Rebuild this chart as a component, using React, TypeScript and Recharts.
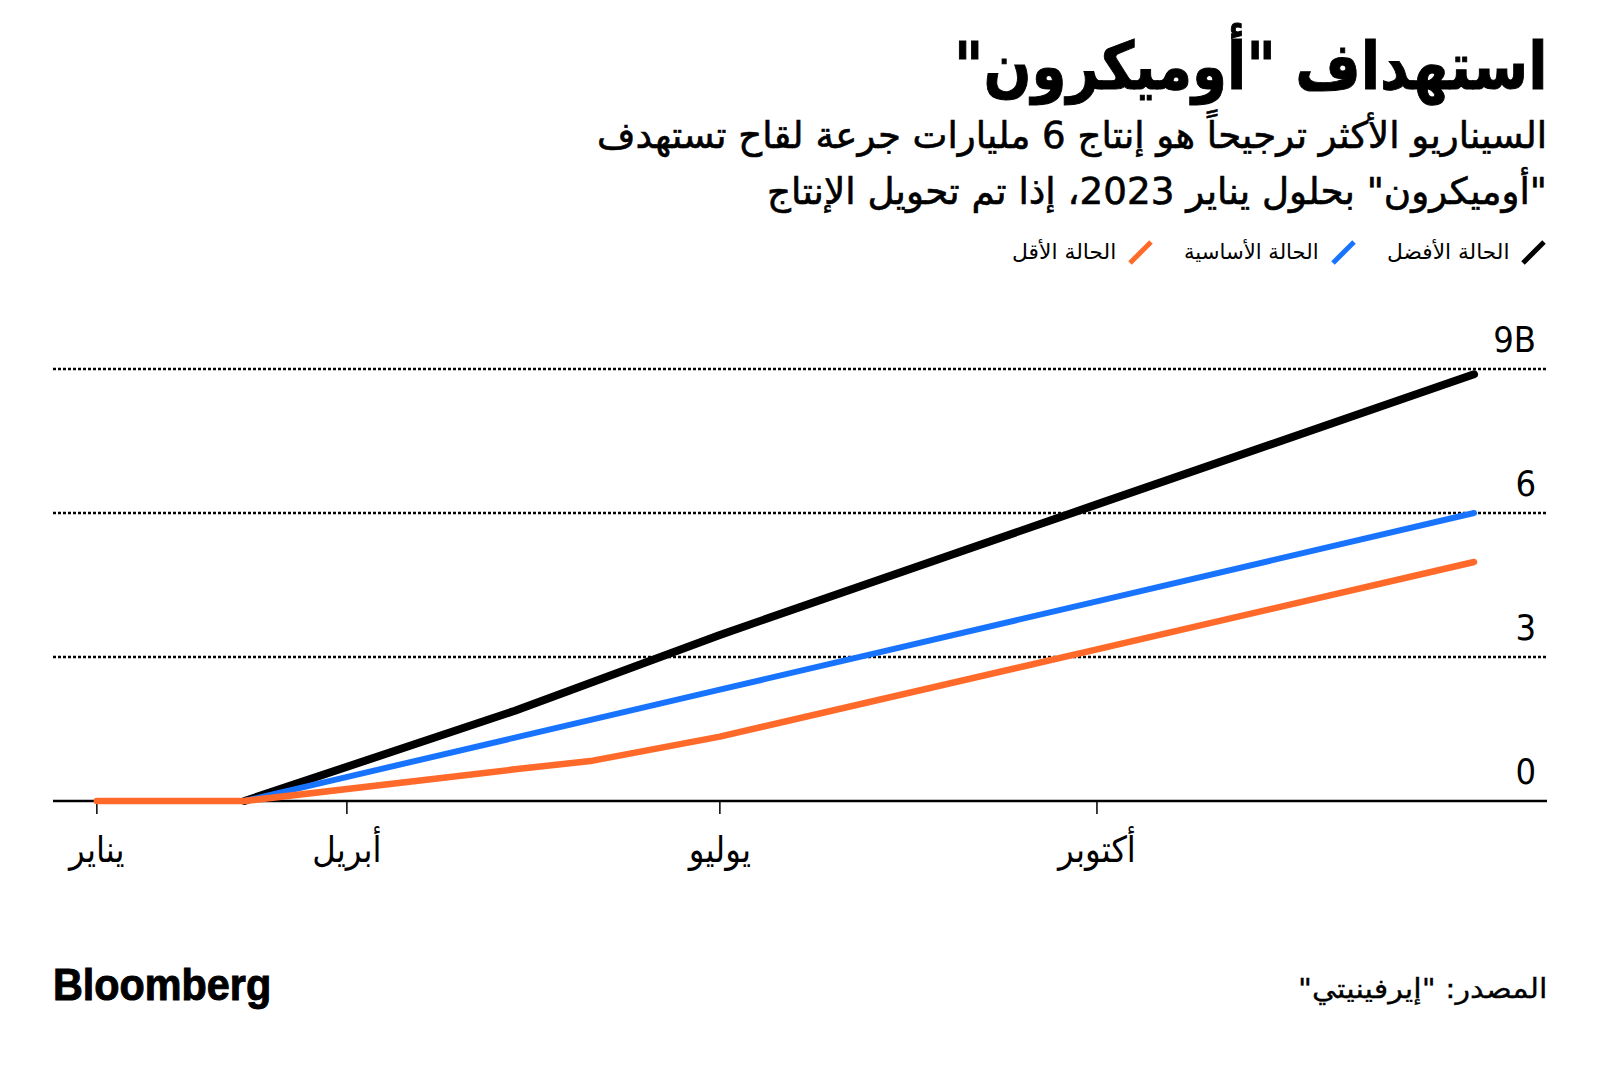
import React, { useLayoutEffect, useRef, useState } from 'react';
import { LineChart, Line, XAxis, YAxis, CartesianGrid } from 'recharts';

// ---- data (day of year 2022 -> billions of doses) ----
const days = [29, 65, 131, 150, 181, 273, 365];
const bestCase: (number | null)[] = [null, 0, 1.88, 2.48, 3.46, 6.18, 8.89];
const baseCase: (number | null)[] = [null, 0, 1.32, 1.7, 2.32, 4.16, 6.0];
const worstCase: (number | null)[] = [0, 0, 0.66, 0.84, 1.34, 3.16, 4.98];

const monthTicks = [29, 90, 181, 273];
const monthLabels = ['يناير', 'أبريل', 'يوليو', 'أكتوبر'];
const valueTicks = [0, 3, 6, 9];
const valueLabels = ['0', '3', '6', '9B'];

const seriesKeys = ['best', 'base', 'worst'];
const seriesNames = ['الحالة الأفضل', 'الحالة الأساسية', 'الحالة الأقل'];
const seriesColors = ['#000000', '#1874ff', '#ff6a2a'];
const seriesWidths = [8, 6, 6.5];
const legendTextWidths = [122, 135, 104];

const titleText = 'استهداف "أوميكرون"';
const subtitleLine1 = 'السيناريو الأكثر ترجيحاً هو إنتاج 6 مليارات جرعة لقاح تستهدف';
const subtitleLine2 = '"أوميكرون" بحلول يناير 2023، إذا تم تحويل الإنتاج';
const sourceText = 'المصدر: "إيرفينيتي"';
const brandText = 'Bloomberg';

const rows = days.map((d, i) => ({
  day: d,
  best: bestCase[i],
  base: baseCase[i],
  worst: worstCase[i],
}));

const W = 1600;
const H = 1065;
const RIGHT_EDGE = 1547;
const ARABIC_FONT = '"DejaVu Sans", sans-serif';
const NARROW_FONT = '"Liberation Sans Narrow", "DejaVu Sans Condensed", "Liberation Sans", sans-serif';

type FitProps = {
  text: string;
  baseline: number;
  fontSize: number;
  width: number;
  right?: number;
  left?: number;
  weight?: number;
  family?: string;
  dir?: 'rtl' | 'ltr';
  stroke?: number;
};

function FitText({ text, baseline, fontSize, width, right, left, weight = 400, family = ARABIC_FONT, dir = 'rtl', stroke = 0 }: FitProps) {
  const ref = useRef<HTMLSpanElement>(null);
  const [sx, setSx] = useState(1);
  useLayoutEffect(() => {
    if (ref.current) {
      const w = ref.current.offsetWidth;
      if (w > 0) setSx(width / w);
    }
  }, [text, width, fontSize]);
  const style: React.CSSProperties = {
    position: 'absolute',
    top: baseline - fontSize * 0.846,
    lineHeight: `${fontSize}px`,
    fontSize,
    fontWeight: weight,
    fontFamily: family,
    whiteSpace: 'nowrap',
    color: '#000',
    WebkitTextStroke: stroke > 0 ? `${stroke}px #000` : undefined,
  };
  if (right !== undefined) style.right = right;
  if (left !== undefined) style.left = left;
  return (
    <div dir={dir} style={style}>
      <span
        ref={ref}
        style={{
          display: 'inline-block',
          transform: `scaleX(${sx})`,
          transformOrigin: right !== undefined ? 'right center' : 'left center',
        }}
      >
        {text}
      </span>
    </div>
  );
}

function LegendLabel({ text, width }: { text: string; width: number }) {
  const ref = useRef<HTMLSpanElement>(null);
  const [sx, setSx] = useState(1);
  useLayoutEffect(() => {
    if (ref.current) {
      const w = ref.current.offsetWidth;
      if (w > 0) setSx(width / w);
    }
  }, [text, width]);
  return (
    <div style={{ width, height: 30, position: 'relative', overflow: 'visible' }}>
      <span
        ref={ref}
        style={{
          position: 'absolute',
          right: 0,
          top: 0,
          lineHeight: '30px',
          fontSize: 21,
          fontFamily: ARABIC_FONT,
          whiteSpace: 'nowrap',
          display: 'inline-block',
          transform: `scaleX(${sx})`,
          transformOrigin: 'right center',
        }}
      >
        {text}
      </span>
    </div>
  );
}

function Legend() {
  return (
    <div
      dir="rtl"
      style={{
        position: 'absolute',
        right: W - RIGHT_EDGE,
        top: 237,
        height: 30,
        display: 'flex',
        alignItems: 'center',
      }}
    >
      {seriesNames.map((name, i) => (
        <div key={name} style={{ display: 'flex', alignItems: 'center', marginLeft: i < seriesNames.length - 1 ? 30 : 0 }}>
          <svg width={28} height={28} style={{ display: 'block' }}>
            <line x1={4} y1={25} x2={25} y2={4} stroke={seriesColors[i]} strokeWidth={5} />
          </svg>
          <div style={{ width: 10 }} />
          <LegendLabel text={name} width={legendTextWidths[i]} />
        </div>
      ))}
    </div>
  );
}

const MonthTick = (props: any) => {
  const { x, y, payload } = props;
  const idx = monthTicks.indexOf(payload.value);
  return (
    <text
      x={x}
      y={y + 46}
      textAnchor="middle"
      fontSize={36}
      fontFamily='"DejaVu Sans Condensed", "DejaVu Sans", sans-serif'
      fill="#000"
    >
      {idx >= 0 ? monthLabels[idx] : ''}
    </text>
  );
};

const ValueTick = (props: any) => {
  const { x, y, payload } = props;
  const idx = valueTicks.indexOf(payload.value);
  return (
    <text x={x - 11} y={y - 17} textAnchor="end" fontSize={36} fontFamily={NARROW_FONT} fill="#000">
      {idx >= 0 ? valueLabels[idx] : ''}
    </text>
  );
};

// horizontal grid: dotted lines, solid one at the zero baseline
const GridLine = (props: any) => {
  const { x1, x2, y1, y2, y, height } = props;
  const isBase = typeof y === 'number' && typeof height === 'number' && Math.abs(y1 - (y + height)) < 1.5;
  if (isBase) {
    return <line x1={x1} x2={x2} y1={y1} y2={y2} stroke="#000" strokeWidth={2.5} />;
  }
  return <line x1={x1} x2={x2} y1={y1} y2={y2} stroke="#000" strokeWidth={2.5} strokeDasharray="3 2" />;
};

export default function App() {
  return (
    <div
      style={{
        position: 'absolute',
        left: 0,
        top: 0,
        width: W,
        height: H,
        background: '#fff',
        overflow: 'hidden',
      }}
    >
      <FitText text={titleText} right={W - RIGHT_EDGE} baseline={90} fontSize={66} width={593} weight={700} stroke={1} />
      <FitText text={subtitleLine1} right={W - RIGHT_EDGE} baseline={148} fontSize={37} width={950} stroke={0.6} />
      <FitText text={subtitleLine2} right={W - RIGHT_EDGE} baseline={204} fontSize={37} width={780} stroke={0.6} />
      <Legend />

      <div style={{ position: 'absolute', left: 0, top: 0 }}>
        <LineChart
          width={W}
          height={H}
          data={rows}
          margin={{ top: 369, right: 52, bottom: 204, left: 53 }}
        >
          <CartesianGrid vertical={false} horizontal={(p: any) => <GridLine {...p} />} />
          <XAxis
            dataKey="day"
            type="number"
            domain={[18.3, 382.8]}
            ticks={monthTicks}
            interval={0}
            height={60}
            tickSize={13}
            tickLine={{ stroke: '#000', strokeWidth: 1.5 }}
            axisLine={false}
            tick={<MonthTick />}
          />
          <YAxis
            orientation="right"
            width={1}
            domain={[0, 9]}
            ticks={valueTicks}
            interval={0}
            axisLine={false}
            tickLine={false}
            tickSize={0}
            tickMargin={0}
            tick={<ValueTick />}
          />
          {seriesKeys.map((k, i) => (
            <Line
              key={k}
              type="linear"
              dataKey={k}
              name={seriesNames[i]}
              stroke={seriesColors[i]}
              strokeWidth={seriesWidths[i]}
              strokeLinecap="round"
              strokeLinejoin="round"
              dot={false}
              activeDot={false}
              isAnimationActive={false}
              {...({ zIndex: 600 } as any)}
            />
          ))}
        </LineChart>
      </div>

      <FitText text={brandText} left={53} baseline={1000} fontSize={44} width={218} weight={700} family='"Liberation Sans", Arial, sans-serif' dir="ltr" stroke={1} />
      <FitText text={sourceText} right={W - RIGHT_EDGE} baseline={998} fontSize={27} width={249} stroke={0.3} />
    </div>
  );
}
